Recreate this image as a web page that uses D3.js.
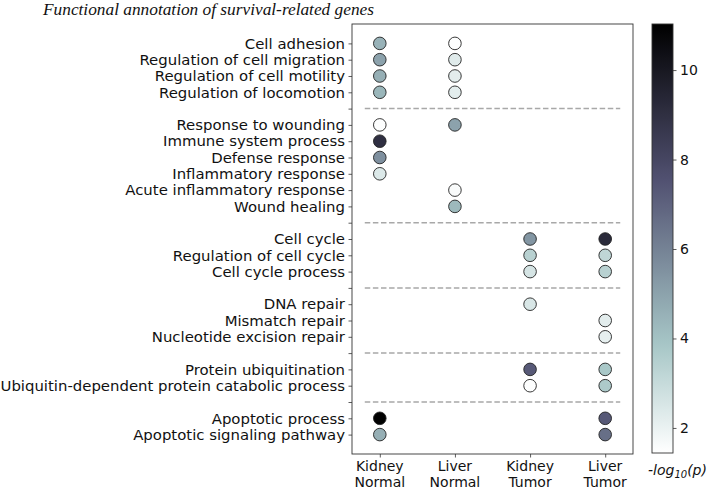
<!DOCTYPE html>
<html>
<head>
<meta charset="utf-8">
<script src="https://cdn.jsdelivr.net/npm/d3@7"></script>
<style>
  html, body { margin: 0; padding: 0; background: #fff; }
  svg { display: block; }
</style>
</head>
<body>
<svg id="chart" width="709" height="490"></svg>
<script>
// ---- data ----
const title = "Functional annotation of survival-related genes";
const conditions = ["Kidney\nNormal", "Liver\nNormal", "Kidney\nTumor", "Liver\nTumor"];
// "" marks a separator row
const terms = [
  "Cell adhesion", "Regulation of cell migration", "Regulation of cell motility", "Regulation of locomotion",
  "",
  "Response to wounding", "Immune system process", "Defense response", "Inflammatory response",
  "Acute inflammatory response", "Wound healing",
  "",
  "Cell cycle", "Regulation of cell cycle", "Cell cycle process",
  "",
  "DNA repair", "Mismatch repair", "Nucleotide excision repair",
  "",
  "Protein ubiquitination", "Ubiquitin-dependent protein catabolic process",
  "",
  "Apoptotic process", "Apoptotic signaling pathway"
];
// -log10(p) per condition, keyed by term
const kidneyNormal = {
  "Cell adhesion": 4.5, "Regulation of cell migration": 5.0, "Regulation of cell motility": 4.6,
  "Regulation of locomotion": 4.4, "Response to wounding": 1.5, "Immune system process": 9.0,
  "Defense response": 5.6, "Inflammatory response": 2.4, "Apoptotic process": 11.0,
  "Apoptotic signaling pathway": 4.6
};
const liverNormal = {
  "Cell adhesion": 1.5, "Regulation of cell migration": 2.3, "Regulation of cell motility": 2.2,
  "Regulation of locomotion": 2.2, "Response to wounding": 5.0, "Acute inflammatory response": 1.6,
  "Wound healing": 4.3
};
const kidneyTumor = {
  "Cell cycle": 5.4, "Regulation of cell cycle": 3.4, "Cell cycle process": 2.6,
  "DNA repair": 2.5, "Protein ubiquitination": 7.3, "Ubiquitin-dependent protein catabolic process": 1.5
};
const liverTumor = {
  "Cell cycle": 9.2, "Regulation of cell cycle": 3.2, "Cell cycle process": 3.4,
  "Mismatch repair": 2.2, "Nucleotide excision repair": 2.1, "Protein ubiquitination": 3.8,
  "Ubiquitin-dependent protein catabolic process": 3.7, "Apoptotic process": 7.3,
  "Apoptotic signaling pathway": 6.6
};
const seriesValues = [kidneyNormal, liverNormal, kidneyTumor, liverTumor];
const colorDomain = [1.44, 11.03];
const colorTicks = [2, 4, 6, 8, 10];

// ---- bone_r colormap ----
function interpCh(stops, t) {
  for (let i = 1; i < stops.length; i++) {
    if (t <= stops[i][0]) {
      const [x0, y0] = stops[i - 1], [x1, y1] = stops[i];
      return y0 + (y1 - y0) * (t - x0) / (x1 - x0);
    }
  }
  return stops[stops.length - 1][1];
}
const boneR = [[0, 0], [0.746032, 0.652778], [1, 1]];
const boneG = [[0, 0], [0.365079, 0.319444], [0.746032, 0.777778], [1, 1]];
const boneB = [[0, 0], [0.365079, 0.444444], [1, 1]];
function bone_r(t) {
  t = Math.max(0, Math.min(1, 1 - t));
  return d3.rgb(255 * interpCh(boneR, t), 255 * interpCh(boneG, t), 255 * interpCh(boneB, t)).formatHex();
}

// ---- layout ----
const svg = d3.select("#chart");
const plot = { left: 352, right: 633, top: 24, bottom: 454 };
const x = d3.scaleLinear().domain([-0.37, 3.37]).range([plot.left, plot.right]);
const y = d3.scaleLinear().domain([-1.19, terms.length - 1 + 1.19]).range([plot.top, plot.bottom]);
const cNorm = d3.scaleLinear().domain(colorDomain).range([0, 1]);
const font = "'DejaVu Sans', sans-serif";

// title
svg.append("text")
  .attr("x", 43).attr("y", 15)
  .attr("font-family", "'Liberation Serif', serif")
  .attr("font-style", "italic")
  .attr("font-size", 16)
  .attr("textLength", 331)
  .attr("lengthAdjust", "spacingAndGlyphs")
  .attr("fill", "#111")
  .text(title);

// separators
terms.forEach((t, i) => {
  if (t === "") {
    svg.append("line")
      .attr("x1", x(-0.2)).attr("x2", x(3.2))
      .attr("y1", y(i)).attr("y2", y(i))
      .attr("stroke", "#a8a8a8").attr("stroke-width", 1.5)
      .attr("stroke-dasharray", "5.5,2.6");
  }
});

// points
const points = [];
seriesValues.forEach((vals, ci) => {
  terms.forEach((t, ri) => {
    if (t !== "" && vals[t] !== undefined) points.push({ ci, ri, v: vals[t] });
  });
});
svg.append("g").selectAll("circle").data(points).join("circle")
  .attr("cx", d => x(d.ci))
  .attr("cy", d => y(d.ri))
  .attr("r", 6.3)
  .attr("fill", d => bone_r(cNorm(d.v)))
  .attr("stroke", "#222").attr("stroke-width", 0.9);

// frame
svg.append("rect")
  .attr("x", plot.left).attr("y", plot.top)
  .attr("width", plot.right - plot.left).attr("height", plot.bottom - plot.top)
  .attr("fill", "none").attr("stroke", "#333").attr("stroke-width", 0.9);

// y axis
const yAxis = d3.axisLeft(y)
  .tickValues(d3.range(terms.length))
  .tickFormat(i => terms[i])
  .tickSize(3.5).tickPadding(3.5);
const gy = svg.append("g").attr("transform", `translate(${plot.left},0)`).call(yAxis);
gy.select(".domain").remove();
gy.selectAll("text").attr("font-family", font).attr("font-size", 14.9).attr("fill", "#111");
gy.selectAll("line").attr("stroke", "#333").attr("stroke-width", 0.8);

// x axis
const xAxis = d3.axisBottom(x).tickValues(d3.range(conditions.length)).tickFormat("").tickSize(3.5);
const gx = svg.append("g").attr("transform", `translate(0,${plot.bottom})`).call(xAxis);
gx.select(".domain").remove();
gx.selectAll("line").attr("stroke", "#333").attr("stroke-width", 0.8);
conditions.forEach((c, i) => {
  c.split("\n").forEach((l, k) => {
    svg.append("text")
      .attr("x", x(i)).attr("y", 471 + k * 16)
      .attr("text-anchor", "middle")
      .attr("font-family", font).attr("font-size", 14).attr("fill", "#111")
      .text(l);
  });
});

// colorbar
const cb = { left: 652, width: 21, top: 24, bottom: 453 };
const defs = svg.append("defs");
const grad = defs.append("linearGradient").attr("id", "cbgrad")
  .attr("x1", 0).attr("y1", 1).attr("x2", 0).attr("y2", 0);
d3.range(0, 1.0001, 0.02).forEach(s => {
  grad.append("stop").attr("offset", s).attr("stop-color", bone_r(s));
});
svg.append("rect")
  .attr("x", cb.left).attr("y", cb.top).attr("width", cb.width).attr("height", cb.bottom - cb.top)
  .attr("fill", "url(#cbgrad)").attr("stroke", "#333").attr("stroke-width", 0.9);
const cy = d3.scaleLinear().domain(colorDomain).range([cb.bottom, cb.top]);
const cAxis = d3.axisRight(cy).tickValues(colorTicks).tickFormat(d3.format("d")).tickSize(3.5).tickPadding(3.5);
const gc = svg.append("g").attr("transform", `translate(${cb.left + cb.width},0)`).call(cAxis);
gc.select(".domain").remove();
gc.selectAll("text").attr("font-family", font).attr("font-size", 14).attr("fill", "#111");
gc.selectAll("line").attr("stroke", "#333").attr("stroke-width", 0.8);

// colorbar label
const lab = svg.append("text")
  .attr("x", cb.left + cb.width / 2 + 15).attr("y", 475)
  .attr("text-anchor", "middle")
  .attr("font-family", font).attr("font-size", 14).attr("font-style", "italic").attr("fill", "#111");
lab.append("tspan").text("-log");
lab.append("tspan").attr("font-size", 10).attr("dy", 3).text("10");
lab.append("tspan").attr("dy", -3).text("(p)");
</script>
</body>
</html>
